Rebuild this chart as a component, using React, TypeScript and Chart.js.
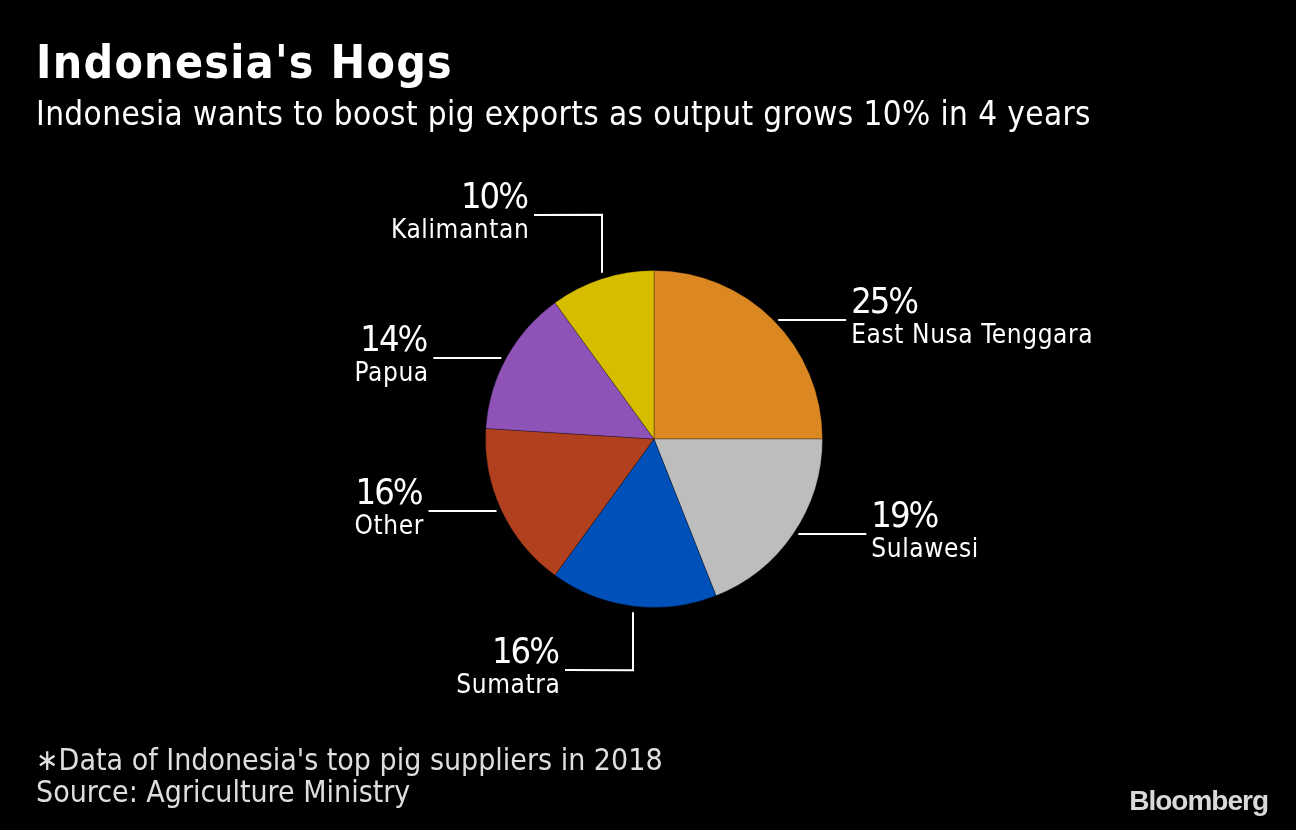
import React, { useEffect, useRef } from "react";
import { Chart, registerables } from "chart.js";

Chart.register(...registerables);

const categories = ["East Nusa Tenggara", "Sulawesi", "Sumatra", "Other", "Papua", "Kalimantan"];
const shares = [25, 19, 16, 16, 14, 10];
const sliceColors = ["#dc8822", "#bdbdbd", "#0050b9", "#b0401e", "#8f53b8", "#d6bd00"];

const titleText = "Indonesia's Hogs";
const subtitleText = "Indonesia wants to boost pig exports as output grows 10% in 4 years";
const footnoteLines = ["\u2217Data of Indonesia's top pig suppliers in 2018", "Source: Agriculture Ministry"];
const brandText = "Bloomberg";

const FONT = '"DejaVu Sans Condensed", "DejaVu Sans", sans-serif';

const backgroundPlugin = {
  id: "bgFill",
  beforeDraw(chart: any) {
    const ctx = chart.ctx;
    ctx.save();
    ctx.fillStyle = "#000";
    ctx.fillRect(0, 0, chart.width, chart.height);
    ctx.restore();
  },
};

const textPlugin = {
  id: "textBlocks",
  afterDraw(chart: any) {
    const ctx = chart.ctx;
    ctx.save();
    ctx.textBaseline = "alphabetic";
    ctx.textAlign = "left";
    ctx.fillStyle = "#fff";
    ctx.font = `bold 46px ${FONT}`;
    ctx.letterSpacing = "1.3px";
    ctx.fillText(titleText, 36, 78);
    ctx.font = `33px ${FONT}`;
    ctx.letterSpacing = "0.4px";
    ctx.fillText(subtitleText, 36, 125);
    ctx.fillStyle = "#dedede";
    ctx.font = `30px ${FONT}`;
    ctx.letterSpacing = "0px";
    ctx.fillText(footnoteLines[0], 36, 770);
    ctx.fillText(footnoteLines[1], 36, 802);
    ctx.fillStyle = "#d9d9d9";
    ctx.font = `bold 28px "Liberation Sans", Arial, sans-serif`;
    ctx.letterSpacing = "-1px";
    ctx.textAlign = "right";
    ctx.fillText(brandText, 1268, 810);
    ctx.restore();
  },
};

const labelPlugin = {
  id: "leaderLabels",
  afterDatasetsDraw(chart: any) {
    const ctx = chart.ctx;
    const meta = chart.getDatasetMeta(0);
    const data = chart.data.datasets[0].data as number[];
    const labels = chart.data.labels as string[];
    ctx.save();
    ctx.strokeStyle = "#fff";
    ctx.fillStyle = "#fff";
    ctx.lineWidth = 2;
    meta.data.forEach((arc: any, i: number) => {
      const p = arc.getProps(["x", "y", "startAngle", "endAngle", "outerRadius"], true);
      const mid = (p.startAngle + p.endAngle) / 2;
      const c = Math.cos(mid);
      const s = Math.sin(mid);
      const px = p.x + c * p.outerRadius;
      const py = p.y + s * p.outerRadius;
      const side = c >= 0 ? 1 : -1;
      let ex: number;
      let ey: number;
      ctx.beginPath();
      if (Math.abs(c) < 0.4) {
        const dy = s >= 0 ? 1 : -1;
        const vx = Math.round(px);
        const y0 = py + dy * 6;
        const y1 = py + dy * 64;
        ctx.moveTo(vx, y0);
        ctx.lineTo(vx, y1);
        ex = vx + side * 68;
        ey = Math.round(y1);
        ctx.lineTo(ex, ey);
      } else {
        ey = Math.round(py);
        const x0 = px + side * 5;
        ex = x0 + side * 68;
        ctx.moveTo(x0, ey);
        ctx.lineTo(ex, ey);
      }
      ctx.stroke();
      const tx = ex + side * 5;
      ctx.textAlign = side > 0 ? "left" : "right";
      ctx.textBaseline = "alphabetic";
      ctx.font = `36px ${FONT}`;
      ctx.letterSpacing = "-2px";
      ctx.fillText(`${data[i]}%`, side > 0 ? tx : tx - 2, ey - 7);
      ctx.font = `26px ${FONT}`;
      ctx.letterSpacing = "0.6px";
      ctx.fillText(labels[i], side > 0 ? tx : tx + 0.4, ey + 23);
    });
    ctx.restore();
  },
};

export default function App() {
  const ref = useRef<HTMLCanvasElement | null>(null);
  useEffect(() => {
    document.body.style.margin = "0";
    document.body.style.background = "#000";
    const canvas = ref.current!;
    const chart = new Chart(canvas, {
      type: "pie",
      data: {
        labels: categories,
        datasets: [
          {
            data: shares,
            backgroundColor: sliceColors,
            borderColor: "rgba(0,0,0,0.3)",
            borderWidth: 1,
          },
        ],
      },
      options: {
        responsive: false,
        animation: false,
        layout: { padding: { top: 270, bottom: 222, left: 400, right: 388 } },
        plugins: {
          legend: { display: false },
          tooltip: { enabled: false },
          title: { display: false },
        },
      },
      plugins: [backgroundPlugin, labelPlugin, textPlugin],
    });
    return () => chart.destroy();
  }, []);
  return (
    <div style={{ width: 1296, height: 830, background: "#000" }}>
      <canvas ref={ref} width={1296} height={830} style={{ display: "block" }} />
    </div>
  );
}
